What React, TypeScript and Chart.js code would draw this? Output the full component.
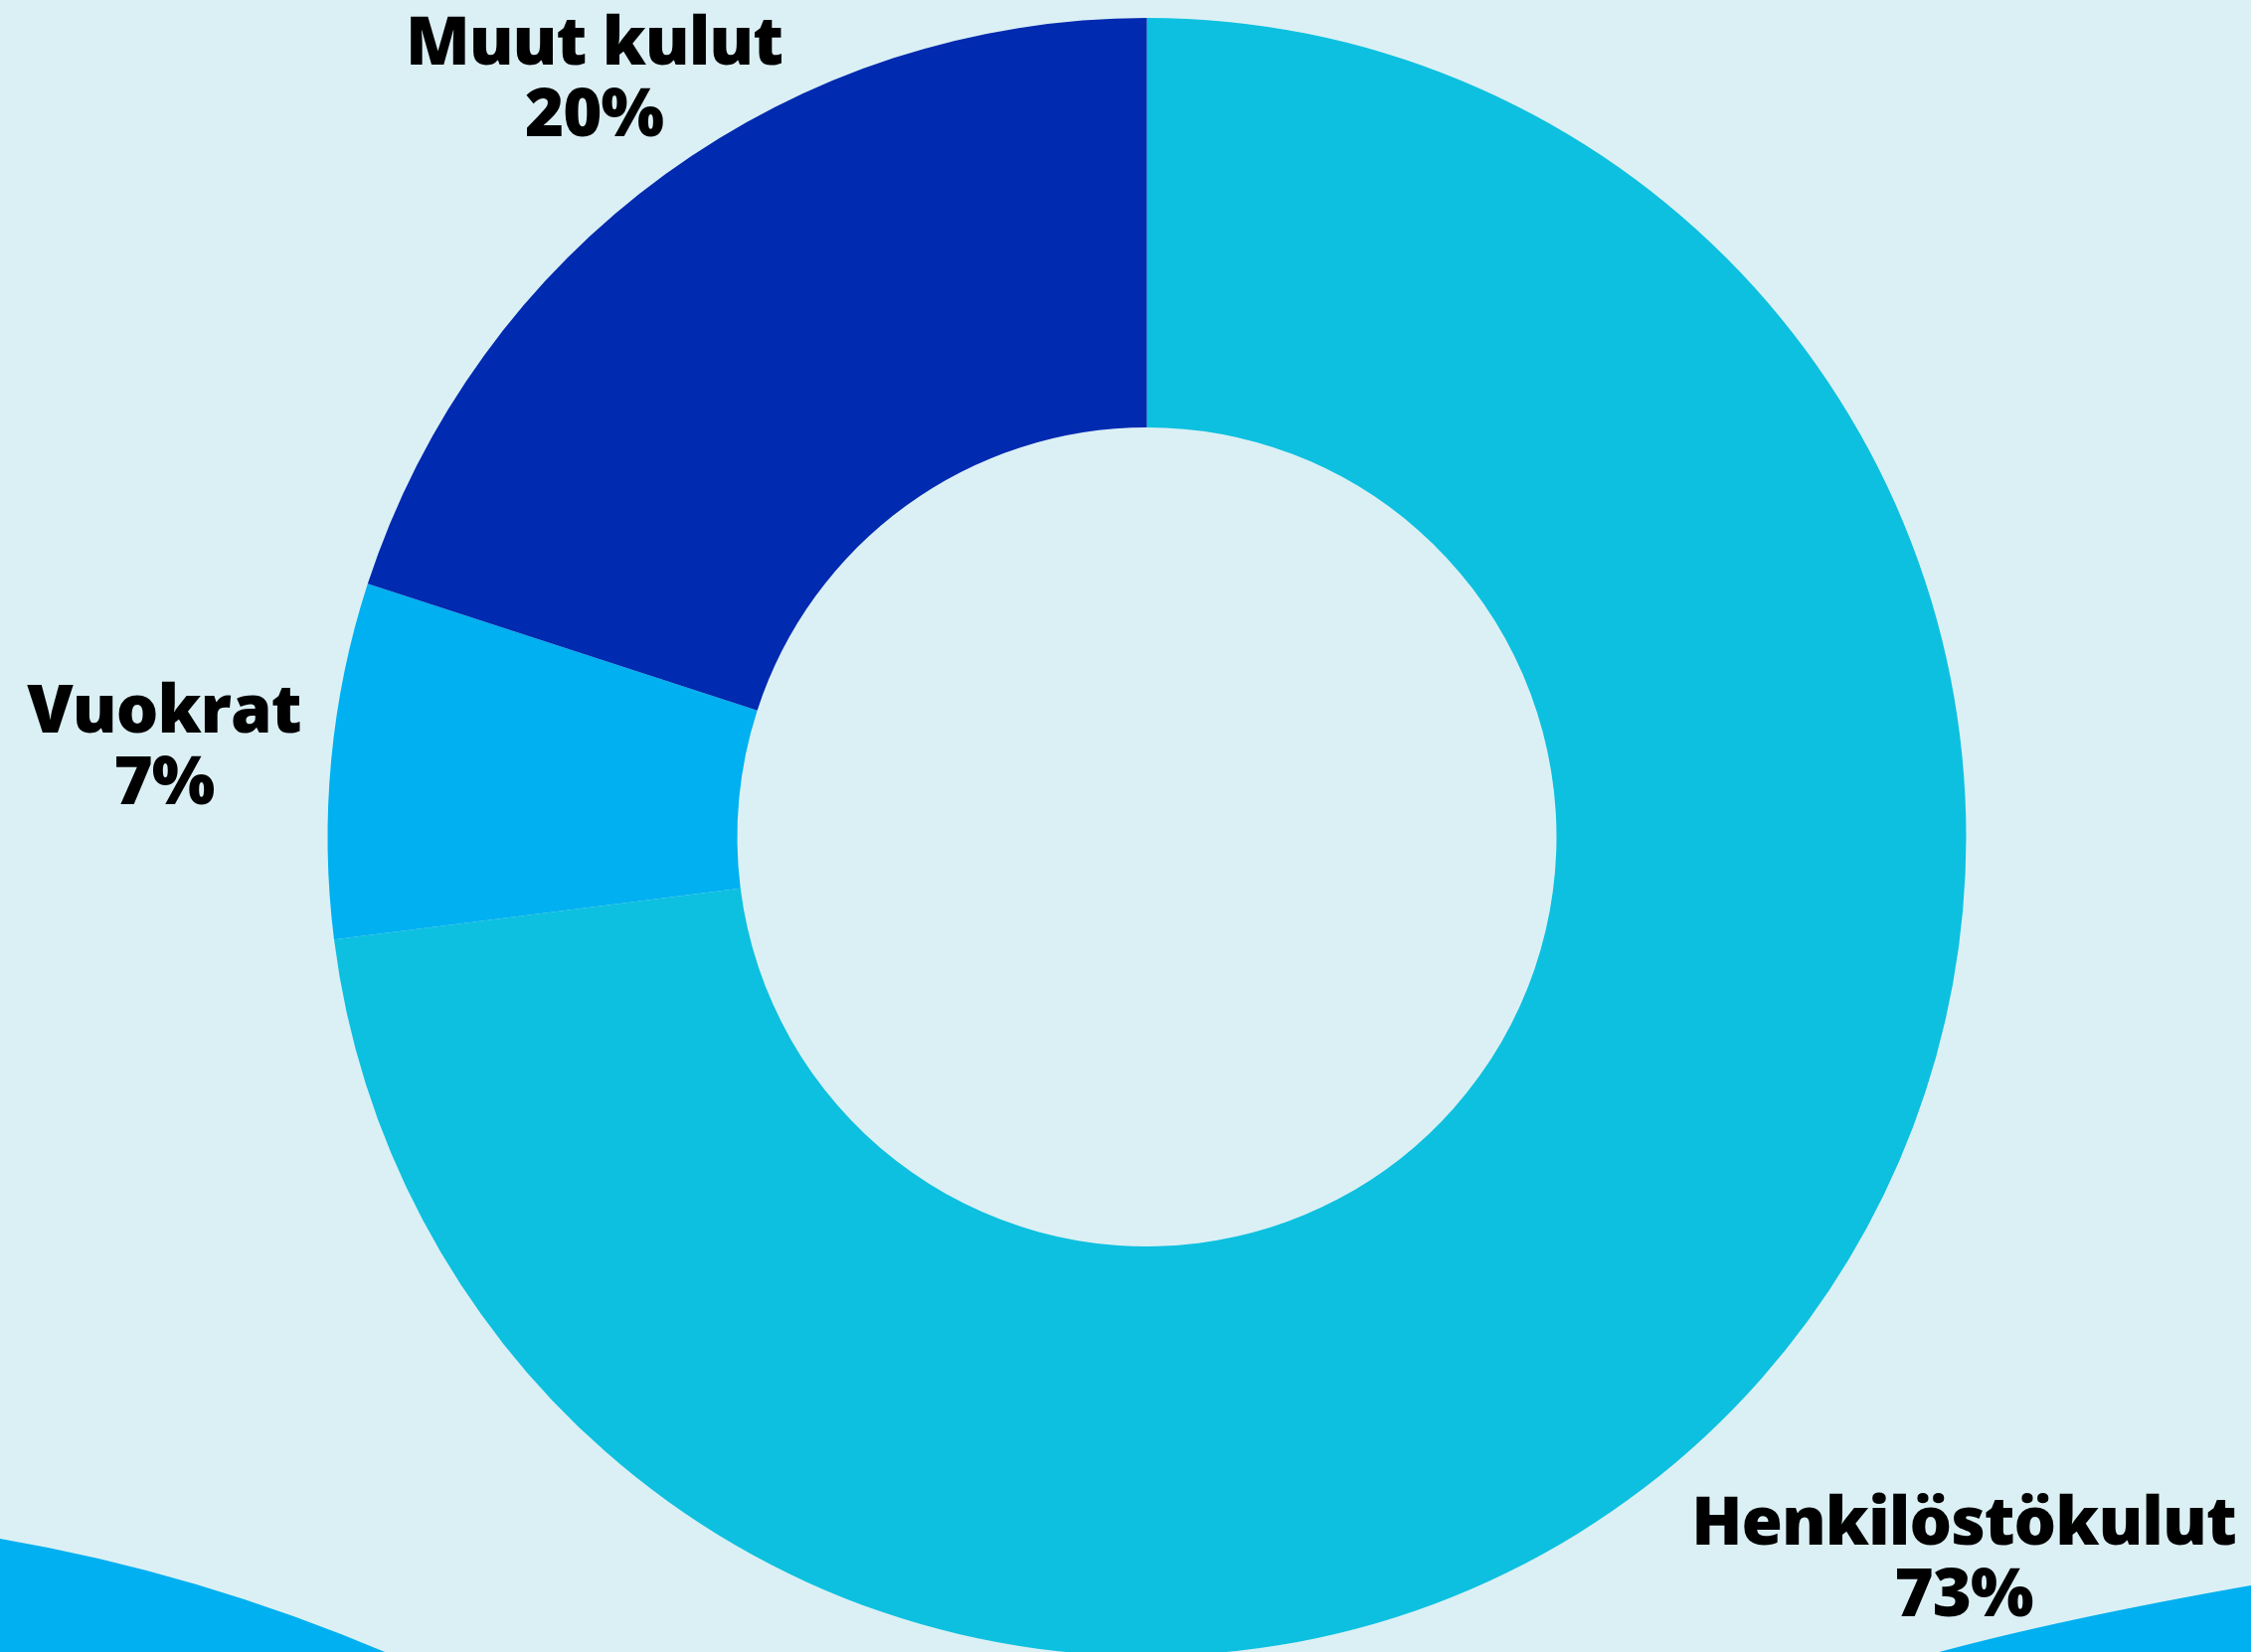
import React, { useEffect, useRef } from "react";
import { Chart, registerables } from "chart.js";

Chart.register(...registerables);

const categories = ["Henkilöstökulut", "Vuokrat", "Muut kulut"];
const values = [73, 7, 20];
const percentLabels = ["73%", "7%", "20%"];
const sliceColors = ["#0DC0DF", "#00B0F0", "#002AAF"];

const BG = "#DBF0F5";
const WAVE = "#00B0F0";

const decorPlugin = {
  id: "decor",
  beforeDraw(chart: any) {
    const ctx = chart.ctx as CanvasRenderingContext2D;
    const w = chart.width;
    ctx.save();
    ctx.fillStyle = BG;
    ctx.fillRect(0, 0, w, chart.height);
    ctx.fillStyle = WAVE;
    // bottom-left wave
    ctx.beginPath();
    ctx.moveTo(0, 1548);
    ctx.quadraticCurveTo(199, 1582, 392, 1664);
    ctx.lineTo(0, 1664);
    ctx.closePath();
    ctx.fill();
    // bottom-right wave
    ctx.beginPath();
    ctx.moveTo(1943, 1664);
    ctx.quadraticCurveTo(2071, 1629, w, 1595);
    ctx.lineTo(w, 1664);
    ctx.closePath();
    ctx.fill();
    ctx.restore();
  },
};

const labelRadiusFactor = [1.329, 1.205, 1.148];

const labelPlugin = {
  id: "sliceLabels",
  afterDraw(chart: any) {
    const ctx = chart.ctx as CanvasRenderingContext2D;
    const meta = chart.getDatasetMeta(0);
    ctx.save();
    ctx.fillStyle = "#000000";
    ctx.textAlign = "center";
    ctx.textBaseline = "alphabetic";
    ctx.font = "800 67px 'Open Sans'";
    (ctx as any).letterSpacing = "-1px";
    meta.data.forEach((arc: any, i: number) => {
      const p = arc.getProps(["x", "y", "startAngle", "endAngle", "outerRadius"], true);
      const mid = (p.startAngle + p.endAngle) / 2;
      const r = p.outerRadius * labelRadiusFactor[i];
      const cx = p.x + Math.cos(mid) * r;
      const cy = p.y + Math.sin(mid) * r;
      ctx.fillText(categories[i], cx, cy - 12);
      ctx.fillText(percentLabels[i], cx, cy + 60);
    });
    ctx.restore();
  },
};

export default function App() {
  const ref = useRef<HTMLCanvasElement | null>(null);

  useEffect(() => {
    document.body.style.margin = "0";
    document.body.style.overflow = "hidden";
    document.documentElement.style.overflow = "hidden";
    const canvas = ref.current!;
    const chart = new Chart(canvas, {
      type: "doughnut",
      data: {
        labels: categories,
        datasets: [
          {
            data: values,
            backgroundColor: sliceColors,
            borderWidth: 0,
            hoverOffset: 0,
          },
        ],
      },
      options: {
        responsive: false,
        animation: false,
        devicePixelRatio: 1,
        cutout: "50%",
        rotation: 0,
        layout: { padding: { top: 18, left: 329, right: 286, bottom: 0 } },
        plugins: {
          legend: { display: false },
          tooltip: { enabled: false },
        },
      },
      plugins: [decorPlugin, labelPlugin],
    });
    return () => chart.destroy();
  }, []);

  return (
    <div style={{ width: 2264, height: 1662, overflow: "hidden", background: BG }}>
      <canvas ref={ref} width={2264} height={1666} style={{ display: "block", width: 2264, height: 1666 }} />
    </div>
  );
}
